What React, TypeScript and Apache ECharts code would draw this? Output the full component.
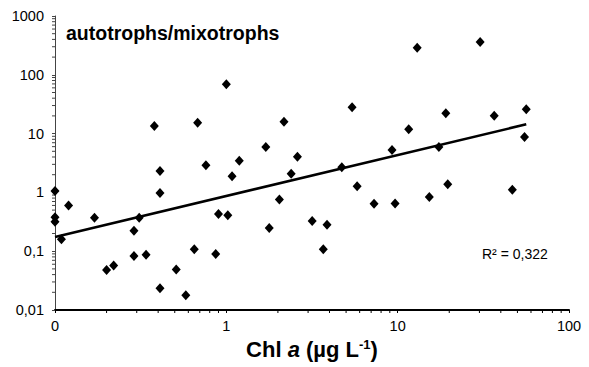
import React, { useEffect, useRef } from "react";
import * as echarts from "echarts";

const chlA = [
  0.1, 0.1, 0.1, 0.109, 0.12, 0.17, 0.2, 0.22, 0.289, 0.289, 0.31, 0.34, 0.41, 0.41, 0.41,
  0.51, 0.58, 0.65, 0.867, 0.9, 1.02, 1.08, 1.78, 2.04, 2.39, 0.38, 0.68, 0.76, 1.0, 1.19,
  1.7, 2.17, 2.6, 4.72, 5.42, 9.27, 11.6, 13, 17.4, 19.1, 30.3, 36.6, 56.3, 55, 5.8, 7.28,
  9.66, 15.3, 19.6, 46.7, 3.17, 3.87, 3.68,
];
const ratio = [
  1.06, 0.377, 0.318, 0.159, 0.6, 0.37, 0.048, 0.057, 0.223, 0.083, 0.37, 0.087, 2.31, 0.98,
  0.0234, 0.049, 0.0178, 0.108, 0.0896, 0.43, 0.41, 1.88, 0.248, 0.76, 2.08, 13.5, 15.3, 2.89,
  68.9, 3.46, 5.9, 15.9, 4.05, 2.67, 28, 5.26, 11.8, 289, 5.9, 22.1, 361, 20.1, 25.9, 8.75,
  1.27, 0.64, 0.65, 0.835, 1.37, 1.11, 0.327, 0.282, 0.108,
];
const trendX = [0.1, 56.3];
const trendY = [0.175, 14.4];
const xTickLabels = ["0", "1", "10", "100"]; // for 0.1, 1, 10, 100
const yTickLabels = ["0,01", "0,1", "1", "10", "100", "1000"]; // for 0.01 ... 1000
const titleText = "autotrophs/mixotrophs";
const r2Text = "R² = 0,322";

const FONT = "'Liberation Sans', Arial, sans-serif";

export default function App() {
  const ref = useRef<HTMLDivElement>(null);
  useEffect(() => {
    if (!ref.current) return;
    const chart = echarts.init(ref.current, undefined, { renderer: "svg" });
    const option: any = {
      animation: false,
      backgroundColor: "#ffffff",
      grid: { left: 55, right: 20, top: 16, bottom: 57, containLabel: false, outerBoundsMode: "none" },
      xAxis: {
        type: "log",
        logBase: 10,
        min: 0.1,
        max: 100,
        axisLine: { show: true, lineStyle: { color: "#000", width: 2 } },
        axisTick: { show: true, length: 3, lineStyle: { color: "#000", width: 1 } },
        splitLine: { show: false },
        axisLabel: {
          color: "#000",
          fontFamily: FONT,
          fontSize: 14.5,
          margin: 8,
          formatter: (v: number) => xTickLabels[Math.round(Math.log10(v)) + 1] ?? "",
        },
        name: "{b|Chl }{i|a}{b| (µg L}{s|-1}{b|)}",
        nameLocation: "middle",
        nameGap: 27,
        nameTextStyle: {
          rich: {
            b: { fontFamily: FONT, fontSize: 22, fontWeight: "bold", color: "#000" },
            i: { fontFamily: FONT, fontSize: 22, fontWeight: "bold", fontStyle: "italic", color: "#000" },
            s: { fontFamily: FONT, fontSize: 13, fontWeight: "bold", color: "#000", verticalAlign: "top", padding: [0, 0, 10, 0] },
          },
        },
      },
      yAxis: {
        type: "log",
        logBase: 10,
        min: 0.01,
        max: 1000,
        axisLine: { show: true, lineStyle: { color: "#444", width: 1 } },
        axisTick: { show: true, length: 3, lineStyle: { color: "#444", width: 1 } },
        splitLine: { show: false },
        axisLabel: {
          color: "#000",
          fontFamily: FONT,
          fontSize: 14.5,
          margin: 11,
          formatter: (v: number) => yTickLabels[Math.round(Math.log10(v)) + 2] ?? "",
        },
      },
      series: [
        {
          type: "line",
          data: trendX.map((x, i) => [x, trendY[i]]),
          showSymbol: false,
          symbol: "none",
          lineStyle: { color: "#000", width: 2.5 },
          z: 2,
        },
        {
          type: "scatter",
          data: chlA.map((x, i) => [x, ratio[i]]),
          symbol: "diamond",
          symbolSize: [9, 10],
          itemStyle: { color: "#000", opacity: 1 },
          z: 3,
        },
      ],
    };
    chart.setOption(option);

    const g: any[] = [];
    const y0 = chart.convertToPixel({ yAxisIndex: 0 }, 0.01) as number;
    const x0 = chart.convertToPixel({ xAxisIndex: 0 }, 0.1) as number;
    for (let d = -1; d < 2; d++) {
      for (let k = 2; k <= 9; k++) {
        const v = k * Math.pow(10, d);
        const p = chart.convertToPixel({ xAxisIndex: 0 }, v) as number;
        g.push({
          type: "line",
          shape: { x1: p, y1: y0, x2: p, y2: y0 + 3 },
          style: { stroke: "#000", lineWidth: 1 },
          silent: true,
        });
      }
    }
    for (let d = -2; d < 3; d++) {
      for (let k = 2; k <= 9; k++) {
        const v = k * Math.pow(10, d);
        const p = chart.convertToPixel({ yAxisIndex: 0 }, v) as number;
        g.push({
          type: "line",
          shape: { x1: x0 - 3, y1: p, x2: x0, y2: p },
          style: { stroke: "#444", lineWidth: 1 },
          silent: true,
        });
      }
    }
    g.push({
      type: "text",
      x: 66,
      y: 33,
      style: {
        text: titleText,
        fontFamily: FONT,
        fontSize: 19.5,
        fontWeight: "bold",
        fill: "#000",
        verticalAlign: "middle",
      },
    });
    g.push({
      type: "text",
      x: 482,
      y: 254,
      style: {
        text: r2Text,
        fontFamily: FONT,
        fontSize: 14,
        fill: "#000",
        verticalAlign: "middle",
      },
    });
    chart.setOption({ graphic: g });
    return () => chart.dispose();
  }, []);
  return <div ref={ref} style={{ width: 589, height: 367, position: "absolute", left: 0, top: 0 }} />;
}
